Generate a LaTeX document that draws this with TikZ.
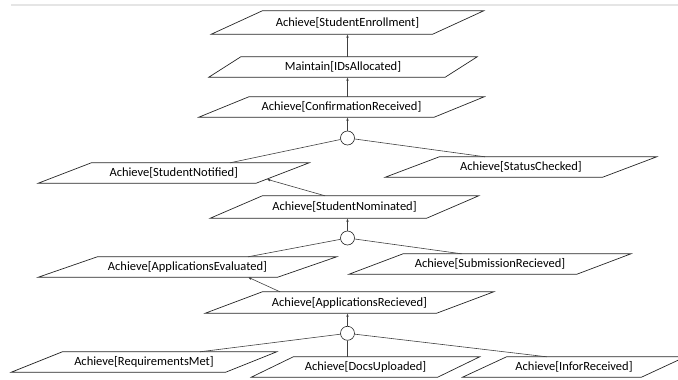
\documentclass[tikz,border=0pt]{standalone}
\usepackage{fontspec}
\setmainfont{Carlito}
\usepackage{tikz}
\usetikzlibrary{arrows.meta}
\def\goalfont{\fontsize{12.5}{14}\selectfont}
\tikzstyle{goal}=[inner sep=0pt,minimum height=20pt,font=\goalfont]
\tikzstyle{goalside}=[draw=black!85,line width=0.7pt]
\tikzstyle{refine}=[draw=black!75,line width=0.6pt]
\tikzstyle{tip}=[refine,-{Latex[length=3.5pt,width=2.6pt]}]
\tikzstyle{andnode}=[circle,draw=black!85,line width=0.6pt,minimum size=14pt,inner sep=0pt,fill=white]

\begin{document}
\begin{tikzpicture}[x=1pt,y=-1pt]
    \useasboundingbox (0,0) rectangle (678,380);
    \draw[gray!20,line width=1.5pt] (11,5) -- (678,5);
    % goals
    \node[goal,minimum width=221pt,minimum height=23pt] (enroll) at (347.5,22.5) {Achieve[StudentEnrollment]};
    \node[goal,minimum width=236pt] (ids) at (343,67) {Maintain[IDsAllocated]};
    \node[goal,minimum width=235pt] (confirm) at (341.5,107) {Achieve[ConfirmationReceived]};
    \node[andnode] (c1) at (347.5,138) {};
    \node[goal,minimum width=217.5pt] (notified) at (173.75,173) {Achieve[StudentNotified]};
    \node[goal,minimum width=217pt] (status) at (521,167) {Achieve[StatusChecked]};
    \node[goal,minimum width=216pt,minimum height=22pt] (nominated) at (344.5,207) {Achieve[StudentNominated]};
    \node[andnode] (c2) at (347.5,238) {};
    \node[goal,minimum width=239pt] (evaluated) at (187.5,267) {Achieve[ApplicationsEvaluated]};
    \node[goal,minimum width=227.5pt] (submission) at (490,264) {Achieve[SubmissionRecieved]};
    \node[goal,minimum width=231pt,minimum height=21pt] (recieved) at (349.5,302.5) {Achieve[ApplicationsRecieved]};
    \node[andnode] (c3) at (347.5,333.3) {};
    \node[goal,minimum width=214pt] (reqmet) at (144,362) {Achieve[RequirementsMet]};
    \node[goal,minimum width=186pt] (docs) at (365.5,367) {Achieve[DocsUploaded]};
    \node[goal,minimum width=178.5pt] (infor) at (574,367) {Achieve[InforReceived]};
    % slanted outlines
    \foreach \n/\s in {enroll/25.5,ids/16,confirm/25,notified/26.5,status/27,nominated/26,
      evaluated/29.5,submission/27,recieved/28.5,reqmet/25.5,docs/21,infor/22}
      \draw[goalside] ([xshift=\s pt]\n.north west) -- ([xshift=\s pt]\n.north east)
        -- ([xshift=-\s pt]\n.south east) -- ([xshift=-\s pt]\n.south west) -- cycle;
    % refinements
    \draw[tip] (ids.north -| c1) -- (enroll.south -| c1);
    \draw[tip] (confirm.north -| c1) -- (ids.south -| c1);
    \draw[tip] (c1) -- (confirm.south -| c1);
    \draw[refine] (c1) -- ([xshift=56.25pt]notified.north);
    \draw[refine] (c1) -- ([xshift=-36pt]status.north);
    \draw[tip] ([xshift=-19.5pt]nominated.north) -- ([xshift=-16pt,yshift=4pt]notified.south east);
    \draw[tip] (c2) -- (nominated.south -| c2);
    \draw[refine] (c2) -- ([xshift=60.5pt]evaluated.north);
    \draw[refine] (c2) -- ([xshift=-28.5pt]submission.north);
    \draw[tip] ([xshift=-69.5pt]recieved.north) -- ([xshift=60.5pt]evaluated.south);
    \draw[tip] (c3) -- (recieved.south -| c3);
    \draw[refine] (c3) -- ([xshift=56pt]reqmet.north);
    \draw[refine] (c3) -- (docs.north -| c3);
    \draw[refine] (c3) -- ([xshift=-27.3pt]infor.north);
\end{tikzpicture}
\end{document}
